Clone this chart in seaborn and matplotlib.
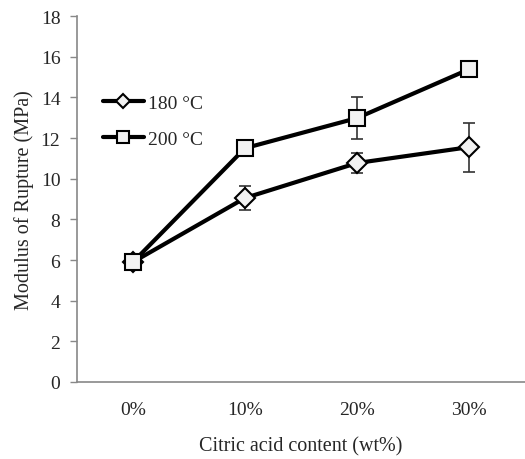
import matplotlib
matplotlib.use('Agg')
import matplotlib.pyplot as plt
import pandas as pd
import seaborn as sns

# Data
contents = ['0%', '10%', '20%', '30%']
mor_180 = [5.9, 9.05, 10.77, 11.55]
err_180 = [0.0, 0.6, 0.47, 1.2]
mor_200 = [5.9, 11.5, 12.98, 15.38]
err_200 = [0.0, 0.0, 1.05, 0.0]

sns.set_style('white')
plt.rcParams['font.family'] = ['Liberation Serif', 'DejaVu Serif']

df = pd.DataFrame({
    'pos': list(range(len(contents))) * 2,
    'mor': mor_180 + mor_200,
    'temp': ['180 °C'] * 4 + ['200 °C'] * 4,
})

fig = plt.figure(figsize=(5.25, 4.6), dpi=100)
ax = fig.add_axes([0.1467, 0.1674, 0.8533, 0.7956])

sns.lineplot(data=df, x='pos', y='mor', hue='temp', style='temp',
             markers={'180 °C': 'D', '200 °C': 's'}, dashes=False,
             palette={'180 °C': 'black', '200 °C': 'black'},
             linewidth=3, markersize=11, markerfacecolor='#f2f2f2',
             markeredgecolor='black', markeredgewidth=1.5, ax=ax)

for line in ax.lines:
    if line.get_marker() == 'D':
        line.set_markersize(10)

ax.errorbar(range(4), mor_180, yerr=err_180, fmt='none', ecolor='#333333',
            elinewidth=1.2, capsize=4, capthick=1.2, zorder=1)
ax.errorbar(range(4), mor_200, yerr=err_200, fmt='none', ecolor='#333333',
            elinewidth=1.2, capsize=4, capthick=1.2, zorder=1)

ax.set_xlim(-0.5, 3.5)
ax.set_ylim(0, 18)
ax.set_yticks(range(0, 19, 2))
ax.set_xticks(range(4))
ax.set_xticklabels(contents)
ax.set_xticks([-0.5, 0.5, 1.5, 2.5, 3.5], minor=True)
ax.tick_params(axis='x', which='major', length=0, pad=14, labelsize=14)
ax.tick_params(axis='x', which='minor', length=5, width=1, color='#888888', direction='out')
ax.tick_params(axis='y', length=5, width=1, color='#888888', direction='out', labelsize=14,
               left=True, pad=7)

for s in ['top', 'right']:
    ax.spines[s].set_visible(False)
for s in ['left', 'bottom']:
    ax.spines[s].set_color('#888888')
    ax.spines[s].set_linewidth(1.2)

ax.set_xlabel('Citric acid content (wt%)', fontsize=14.5, labelpad=13)
ax.set_ylabel('Modulus of Rupture (MPa)', fontsize=14.5, labelpad=5)

leg = ax.legend(title=None, loc='upper left', bbox_to_anchor=(0.019, 0.834), frameon=False,
                fontsize=14, handlelength=2.1, handletextpad=0.2, labelspacing=0.95)
for h in leg.legend_handles:
    h.set_markersize(7 if h.get_marker() == 'D' else 8)

fig.savefig('out.png', dpi=100)
